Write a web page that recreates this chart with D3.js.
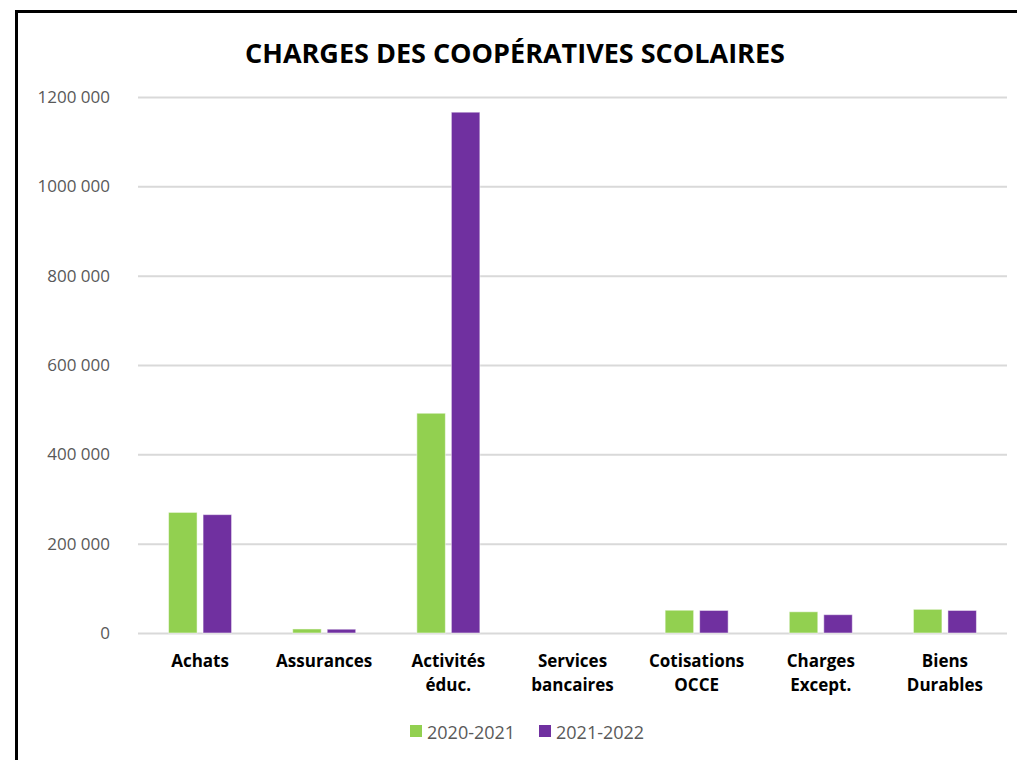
<!DOCTYPE html>
<html lang="fr">
<head>
<meta charset="utf-8">
<title>Charges des coopératives scolaires</title>
<script src="https://cdn.jsdelivr.net/npm/d3@7"></script>
<style>
  body { margin: 0; background: #fff; }
  svg { display: block; font-family: "Open Sans", "Noto Sans", sans-serif; }
</style>
</head>
<body>
<script>
// data
var categories = [["Achats"], ["Assurances"], ["Activités", "éduc."], ["Services", "bancaires"],
                  ["Cotisations", "OCCE"], ["Charges", "Except."], ["Biens", "Durables"]];
var series = ["2020-2021", "2021-2022"];
var values2021 = [270000, 9000, 492000, 0, 51000, 47500, 53000];
var values2022 = [265000, 8500, 1166000, 0, 50500, 41000, 50500];
var yTicks = [0, 200000, 400000, 600000, 800000, 1000000, 1200000];
var yTickLabels = ["0", "200 000", "400 000", "600 000", "800 000", "1000 000", "1200 000"];
var colors = ["#92D050", "#7030A0"];

var w = 1017, h = 760;
var plotL = 138, plotR = 1007, plotT = 97, plotB = 633;

var svg = d3.select("body").append("svg")
  .attr("width", w).attr("height", h);

// frame
svg.append("path")
  .attr("d", "M16.5," + (h + 5) + " V11.5 H" + (w + 5))
  .attr("fill", "none").attr("stroke", "#000").attr("stroke-width", 3);

svg.append("text")
  .attr("x", 515).attr("y", 63)
  .attr("text-anchor", "middle")
  .attr("font-size", 27).attr("font-weight", "bold").attr("fill", "#000")
  .text("CHARGES DES COOPÉRATIVES SCOLAIRES");

var x = d3.scaleBand().domain(d3.range(categories.length)).range([plotL, plotR]);
var y = d3.scaleLinear().domain([0, 1200000]).range([plotB, plotT]);

// grid + y labels
var yAxis = svg.append("g")
  .attr("transform", "translate(" + plotL + ",0)")
  .call(d3.axisLeft(y).tickValues(yTicks).tickSize(-(plotR - plotL)).tickPadding(28)
    .tickFormat(function(d, i) { return yTickLabels[i]; }));
yAxis.select(".domain").remove();
yAxis.selectAll(".tick line").attr("stroke", "#d9d9d9").attr("stroke-width", 2);
yAxis.selectAll(".tick text")
  .attr("fill", "#595959").attr("font-size", 17)
  .attr("font-family", "\"Open Sans\", sans-serif");

// bars
var barW = 28.5, gap = 6;
var data = [values2021, values2022];
data.forEach(function(vals, s) {
  svg.append("g").selectAll("rect")
    .data(vals)
    .enter().append("rect")
    .attr("x", function(d, i) {
      var c = x(i) + x.bandwidth() / 2;
      return s === 0 ? c - gap / 2 - barW : c + gap / 2;
    })
    .attr("y", function(d) { return y(d); })
    .attr("width", barW)
    .attr("height", function(d) { return plotB - y(d); })
    .attr("fill", colors[s])
    .attr("stroke", "#fff").attr("stroke-opacity", 0.5).attr("stroke-width", 1);
});

// category labels
var cat = svg.append("g").selectAll("text")
  .data(categories).enter().append("text")
  .attr("x", function(d, i) { return x(i) + x.bandwidth() / 2; })
  .attr("y", 667)
  .attr("text-anchor", "middle")
  .attr("font-size", 17).attr("font-weight", "bold").attr("fill", "#000");
cat.selectAll("tspan")
  .data(function(d) { return d; })
  .enter().append("tspan")
  .attr("x", function() { return this.parentNode.getAttribute("x"); })
  .attr("dy", function(d, i) { return i === 0 ? 0 : 24; })
  .text(function(d) { return d; });

// legend
var legX = [410, 539];
series.forEach(function(name, i) {
  svg.append("rect")
    .attr("x", legX[i]).attr("y", 725)
    .attr("width", 12).attr("height", 12)
    .attr("fill", colors[i]);
  svg.append("text")
    .attr("x", legX[i] + 17).attr("y", 739)
    .attr("font-size", 18).attr("fill", "#595959")
    .text(name);
});
</script>
</body>
</html>
